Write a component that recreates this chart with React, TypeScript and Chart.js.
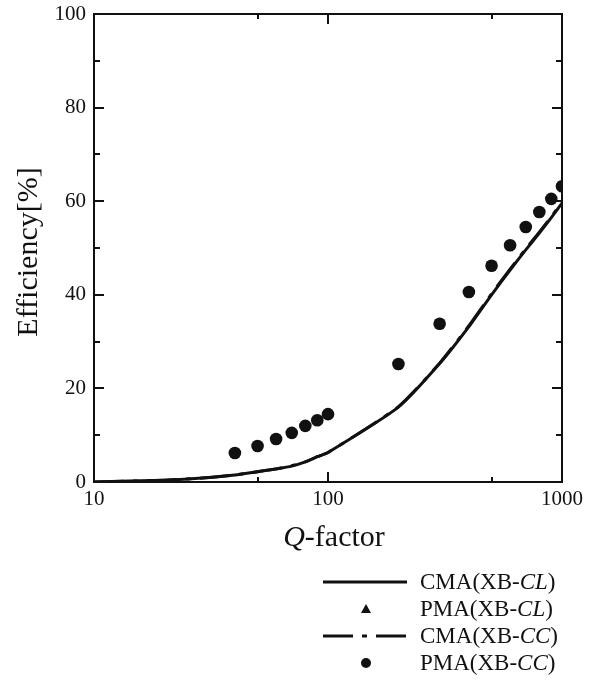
import React, { useEffect, useRef } from "react";
import { Chart, registerables } from "chart.js";

Chart.register(...registerables);

// ---- data ----
const qLine = [10, 20, 30, 40, 50, 60, 70, 80, 90, 100, 200, 300, 400, 500, 600, 700, 800, 900, 1000];
const cmaCL = [0, 0.4, 0.9, 1.5, 2.2, 2.8, 3.4, 4.3, 5.4, 6.3, 16.0, 25.3, 33.2, 40.0, 45.3, 49.6, 53.2, 56.5, 59.6];
const cmaCC = [0, 0.4, 0.9, 1.5, 2.2, 2.8, 3.5, 4.3, 5.4, 6.3, 16.1, 25.4, 33.4, 40.2, 45.5, 49.8, 53.4, 56.7, 59.8];
const qPoints = [40, 50, 60, 70, 80, 90, 100, 200, 300, 400, 500, 600, 700, 800, 900, 1000];
const pmaCL = [6.1, 7.6, 9.1, 10.4, 11.9, 13.1, 14.4, 25.0, 33.6, 40.4, 46.0, 50.4, 54.3, 57.5, 60.3, 63.0];
const pmaCC = [6.2, 7.7, 9.2, 10.5, 12.0, 13.2, 14.5, 25.2, 33.8, 40.6, 46.2, 50.6, 54.5, 57.7, 60.5, 63.2];
const xTickLabels = [10, 100, 1000];
const xMinorTicks = [50, 500];
const xMajorInner = [100];
const yMajor = [20, 40, 60, 80];
const yMinor = [10, 30, 50, 70, 90];

const FONT = "'Liberation Serif', 'Times New Roman', serif";

const legendRows = [
  { parts: [["CMA(XB-", false], ["CL", true], [")", false]], kind: "solid" },
  { parts: [["PMA(XB-", false], ["CL", true], [")", false]], kind: "triangle" },
  { parts: [["CMA(XB-", false], ["CC", true], [")", false]], kind: "dashdot" },
  { parts: [["PMA(XB-", false], ["CC", true], [")", false]], kind: "circle" },
];

const decorPlugin = {
  id: "decor",
  afterDraw(chart: any) {
    const ctx = chart.ctx as CanvasRenderingContext2D;
    const { left, right, top, bottom } = chart.chartArea;
    const xs = chart.scales.x;
    const ys = chart.scales.y;
    ctx.save();
    ctx.strokeStyle = "#111";
    ctx.lineWidth = 2;
    ctx.strokeRect(left, top, right - left, bottom - top);
    const vtick = (v: number, len: number) => {
      const px = Math.round(xs.getPixelForValue(v));
      ctx.beginPath();
      ctx.moveTo(px, bottom);
      ctx.lineTo(px, bottom - len);
      ctx.moveTo(px, top);
      ctx.lineTo(px, top + len);
      ctx.stroke();
    };
    const htick = (v: number, len: number) => {
      const py = Math.round(ys.getPixelForValue(v));
      ctx.beginPath();
      ctx.moveTo(left, py);
      ctx.lineTo(left + len, py);
      ctx.moveTo(right, py);
      ctx.lineTo(right - len, py);
      ctx.stroke();
    };
    xMajorInner.forEach((v) => vtick(v, 10));
    xMinorTicks.forEach((v) => vtick(v, 5));
    yMajor.forEach((v) => htick(v, 10));
    yMinor.forEach((v) => htick(v, 6));

    // y title
    ctx.fillStyle = "#111";
    ctx.font = `30px ${FONT}`;
    ctx.textAlign = "center";
    ctx.textBaseline = "middle";
    ctx.save();
    ctx.translate(29, 252);
    ctx.rotate(-Math.PI / 2);
    ctx.fillText("Efficiency[%]", 0, 0);
    ctx.restore();

    const drawParts = (parts: any[], x: number, y: number, size: number, align: string) => {
      let total = 0;
      const widths = parts.map(([t, it]) => {
        ctx.font = `${it ? "italic " : ""}${size}px ${FONT}`;
        const w = ctx.measureText(t).width;
        total += w;
        return w;
      });
      let cx = align === "center" ? x - total / 2 : x;
      ctx.textAlign = "left";
      ctx.textBaseline = "middle";
      parts.forEach(([t, it], i) => {
        ctx.font = `${it ? "italic " : ""}${size}px ${FONT}`;
        ctx.fillText(t, cx, y);
        cx += widths[i];
      });
    };
    drawParts([["Q", true], ["-factor", false]], (left + right) / 2 + 6, 538, 30, "center");

    // legend
    const rowY = [582, 609, 636, 663];
    const lx0 = 323, lx1 = 407, mx = 366, tx = 420;
    legendRows.forEach((row, i) => {
      const y = rowY[i];
      ctx.strokeStyle = "#111";
      ctx.fillStyle = "#111";
      if (row.kind === "solid" || row.kind === "dashdot") {
        ctx.lineWidth = 3;
        ctx.setLineDash(row.kind === "dashdot" ? [30, 9, 5, 9] : []);
        ctx.beginPath();
        ctx.moveTo(lx0, y);
        ctx.lineTo(lx1, y);
        ctx.stroke();
        ctx.setLineDash([]);
      } else if (row.kind === "triangle") {
        ctx.beginPath();
        ctx.moveTo(mx, y - 5);
        ctx.lineTo(mx + 5, y + 4);
        ctx.lineTo(mx - 5, y + 4);
        ctx.closePath();
        ctx.fill();
      } else {
        ctx.beginPath();
        ctx.arc(mx, y, 5, 0, Math.PI * 2);
        ctx.fill();
      }
      drawParts(row.parts, tx, y + 1, 23, "left");
    });
    ctx.restore();
  },
};

export default function App() {
  const ref = useRef<HTMLCanvasElement | null>(null);
  useEffect(() => {
    if (!ref.current) return;
    const chart = new Chart(ref.current, {
      type: "line",
      data: {
        datasets: [
          {
            label: "CMA(XB-CL)",
            data: qLine.map((q, i) => ({ x: q, y: cmaCL[i] })),
            borderColor: "#111",
            borderWidth: 3,
            pointRadius: 0,
            tension: 0.2,
            order: 4,
          },
          {
            label: "CMA(XB-CC)",
            data: qLine.map((q, i) => ({ x: q, y: cmaCC[i] })),
            borderColor: "#111",
            borderWidth: 3,
            borderDash: [30, 9, 5, 9],
            pointRadius: 0,
            tension: 0.2,
            order: 3,
          },
          {
            label: "PMA(XB-CL)",
            data: qPoints.map((q, i) => ({ x: q, y: pmaCL[i] })),
            showLine: false,
            pointStyle: "triangle",
            pointRadius: 5,
            backgroundColor: "#111",
            borderColor: "#111",
            order: 2,
          },
          {
            label: "PMA(XB-CC)",
            data: qPoints.map((q, i) => ({ x: q, y: pmaCC[i] })),
            showLine: false,
            pointStyle: "circle",
            pointRadius: 6.3,
            backgroundColor: "#111",
            borderColor: "#111",
            borderWidth: 0,
            order: 1,
          },
        ],
      },
      options: {
        animation: false,
        responsive: false,
        layout: { padding: { left: 0, right: 35, top: 14, bottom: 159 } },
        plugins: { legend: { display: false }, tooltip: { enabled: false } },
        scales: {
          x: {
            type: "logarithmic",
            min: 10,
            max: 1000,
            grid: { display: false, drawTicks: false },
            border: { display: false },
            afterBuildTicks: (scale: any) => {
              scale.ticks = xTickLabels.map((v) => ({ value: v }));
            },
            afterFit: (scale: any) => {
              scale.height = 40;
              scale.paddingLeft = 0;
              scale.paddingRight = 0;
            },
            ticks: {
              autoSkip: false,
              maxRotation: 0,
              padding: 5,
              color: "#111",
              font: { family: FONT, size: 21 },
              callback: (v: any) => String(v),
            },
          },
          y: {
            min: 0,
            max: 100,
            grid: { display: false, drawTicks: false },
            border: { display: false },
            afterFit: (scale: any) => {
              scale.width = 94;
              scale.paddingTop = 0;
              scale.paddingBottom = 0;
            },
            ticks: {
              stepSize: 20,
              padding: 8,
              color: "#111",
              font: { family: FONT, size: 21 },
            },
          },
        },
      },
      plugins: [decorPlugin],
    } as any);
    return () => chart.destroy();
  }, []);
  return (
    <canvas
      ref={ref}
      width={597}
      height={681}
      style={{ display: "block", position: "absolute", left: 0, top: 0 }}
    />
  );
}
